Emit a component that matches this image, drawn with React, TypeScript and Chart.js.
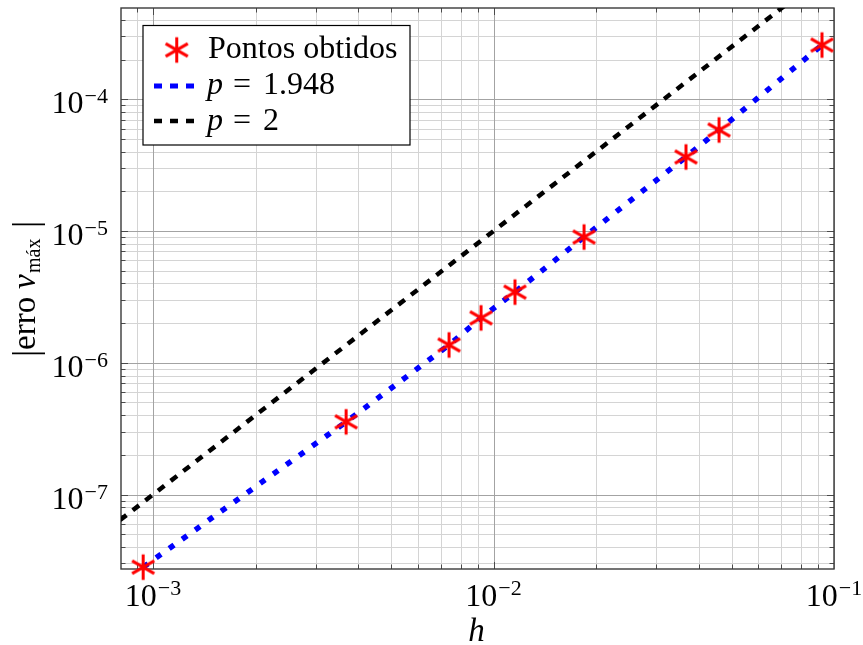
import React, { useEffect, useRef } from 'react';
import { Chart, registerables } from 'chart.js';

Chart.register(...registerables);

// ---- data ----
const hValues = [9.35e-4, 3.69e-3, 7.4e-3, 9.19e-3, 1.156e-2, 1.844e-2, 3.674e-2, 4.596e-2, 9.22e-2];
const errValues = [2.81e-8, 3.56e-7, 1.365e-6, 2.19e-6, 3.44e-6, 9.0e-6, 3.65e-5, 5.85e-5, 2.58e-4];
const refH = [8.0e-4, 0.1];
const refErr = [6.4e-8, 1.0e-3];

const xMajorTicks = [1e-3, 1e-2, 1e-1];
const xTickExponents = ['\u22123', '\u22122', '\u22121'];
const yMajorTicks = [1e-7, 1e-6, 1e-5, 1e-4];
const yTickExponents = ['\u22127', '\u22126', '\u22125', '\u22124'];
const legendLabels = ['Pontos obtidos', '1.948', '2'];

const X_MIN = 8.05e-4;
const X_MAX = 0.1;
const Y_MIN = 2.72e-8;
const Y_MAX = 4.93e-4;

const SERIF = '"Liberation Serif", "Times New Roman", serif';

function minorPositions(min: number, max: number): number[] {
  const out: number[] = [];
  const e0 = Math.floor(Math.log10(min));
  const e1 = Math.ceil(Math.log10(max));
  for (let e = e0; e <= e1; e++) {
    for (let k = 2; k <= 9; k++) {
      const v = k * Math.pow(10, e);
      if (v > min * 1.0001 && v < max * 0.9999) out.push(v);
    }
  }
  return out;
}

function makeStar(r: number, lw: number, color: string): HTMLCanvasElement {
  const size = Math.ceil(2 * r + lw + 2);
  const c = document.createElement('canvas');
  c.width = size;
  c.height = size;
  const g = c.getContext('2d')!;
  g.strokeStyle = color;
  g.lineWidth = lw;
  g.lineCap = 'butt';
  const cx = size / 2;
  const cy = size / 2;
  g.beginPath();
  for (let k = 0; k < 3; k++) {
    const ang = Math.PI / 2 + (k * Math.PI) / 3;
    const dx = r * Math.cos(ang);
    const dy = r * Math.sin(ang);
    g.moveTo(cx - dx, cy - dy);
    g.lineTo(cx + dx, cy + dy);
  }
  g.stroke();
  return c;
}

export default function App() {
  const canvasRef = useRef<HTMLCanvasElement | null>(null);

  useEffect(() => {
    const canvas = canvasRef.current;
    if (!canvas) return;
    const star = makeStar(12.8, 3, '#ff0000');
    const xMinor = minorPositions(X_MIN, X_MAX);
    const yMinor = minorPositions(Y_MIN, Y_MAX);

    const framePlugin = {
      id: 'framePlugin',
      beforeDatasetsDraw(chart: any) {
        const { ctx, chartArea: a } = chart;
        const xs = chart.scales.x;
        const ys = chart.scales.y;
        ctx.save();
        ctx.fillStyle = '#ffffff';
        ctx.fillRect(a.left, a.top, a.right - a.left, a.bottom - a.top);
        // minor grid
        ctx.lineWidth = 1;
        ctx.strokeStyle = '#d4d4d4';
        ctx.beginPath();
        for (const v of xMinor) {
          const p = Math.round(xs.getPixelForValue(v)) + 0.5;
          ctx.moveTo(p, a.top);
          ctx.lineTo(p, a.bottom);
        }
        for (const v of yMinor) {
          const p = Math.round(ys.getPixelForValue(v)) + 0.5;
          ctx.moveTo(a.left, p);
          ctx.lineTo(a.right, p);
        }
        ctx.stroke();
        // major grid
        ctx.strokeStyle = '#a3a3a3';
        ctx.beginPath();
        for (const v of xMajorTicks) {
          const p = Math.round(xs.getPixelForValue(v)) + 0.5;
          ctx.moveTo(p, a.top);
          ctx.lineTo(p, a.bottom);
        }
        for (const v of yMajorTicks) {
          const p = Math.round(ys.getPixelForValue(v)) + 0.5;
          ctx.moveTo(a.left, p);
          ctx.lineTo(a.right, p);
        }
        ctx.stroke();
        // tick marks inside on all sides
        ctx.strokeStyle = '#4a4a4a';
        ctx.beginPath();
        const tick = (vals: number[], len: number) => {
          for (const v of vals) {
            const px = Math.round(xs.getPixelForValue(v)) + 0.5;
            if (px > a.left && px < a.right) {
              ctx.moveTo(px, a.bottom);
              ctx.lineTo(px, a.bottom - len);
              ctx.moveTo(px, a.top);
              ctx.lineTo(px, a.top + len);
            }
          }
        };
        const tickY = (vals: number[], len: number) => {
          for (const v of vals) {
            const py = Math.round(ys.getPixelForValue(v)) + 0.5;
            if (py > a.top && py < a.bottom) {
              ctx.moveTo(a.left, py);
              ctx.lineTo(a.left + len, py);
              ctx.moveTo(a.right, py);
              ctx.lineTo(a.right - len, py);
            }
          }
        };
        tick(xMinor, 4.5);
        tick(xMajorTicks, 7);
        tickY(yMinor, 4.5);
        tickY(yMajorTicks, 7);
        ctx.stroke();
        // frame
        ctx.lineWidth = 1.4;
        ctx.strokeStyle = '#3a3a3a';
        ctx.strokeRect(a.left, a.top, a.right - a.left, a.bottom - a.top);
        ctx.restore();
      },
      afterDraw(chart: any) {
        const { ctx } = chart;
        const xs = chart.scales.x;
        const ys = chart.scales.y;
        ctx.save();
        ctx.fillStyle = '#000000';
        ctx.textBaseline = 'alphabetic';
        ctx.textAlign = 'left';
        const baseFont = `32px ${SERIF}`;
        const expFont = `22px ${SERIF}`;
        // x tick labels
        xMajorTicks.forEach((v, i) => {
          const px = xs.getPixelForValue(v);
          ctx.font = baseFont;
          const wb = ctx.measureText('10').width;
          ctx.font = expFont;
          const we = ctx.measureText(xTickExponents[i]).width;
          const start = px - (wb + we + 1) / 2;
          ctx.font = baseFont;
          ctx.fillText('10', start, 606);
          ctx.font = expFont;
          ctx.fillText(xTickExponents[i], start + wb + 1, 595);
        });
        // y tick labels
        yMajorTicks.forEach((v, i) => {
          const py = ys.getPixelForValue(v);
          ctx.font = baseFont;
          const wb = ctx.measureText('10').width;
          ctx.font = expFont;
          const we = ctx.measureText(yTickExponents[i]).width;
          const right = 108;
          ctx.font = baseFont;
          ctx.fillText('10', right - we - 1 - wb, py + 14);
          ctx.font = expFont;
          ctx.fillText(yTickExponents[i], right - we, py + 4);
        });
        // x title
        ctx.font = `italic 33px ${SERIF}`;
        const wh = ctx.measureText('h').width;
        ctx.fillText('h', 476.5 - wh / 2, 641);
        // y title (rotated)
        ctx.save();
        ctx.translate(35, 288);
        ctx.rotate(-Math.PI / 2);
        ctx.font = `36px ${SERIF}`;
        ctx.fillText('|', -69, 2);
        ctx.font = `33px ${SERIF}`;
        ctx.fillText('erro', -62, 0);
        ctx.font = `italic 33px ${SERIF}`;
        ctx.fillText('v', -1, 0);
        ctx.font = `20px ${SERIF}`;
        ctx.fillText('máx', 15, 5);
        ctx.font = `36px ${SERIF}`;
        ctx.fillText('|', 60, 2);
        ctx.restore();

        // legend
        ctx.fillStyle = '#ffffff';
        ctx.fillRect(143, 25, 267, 120);
        ctx.lineWidth = 1.2;
        ctx.strokeStyle = '#000000';
        ctx.strokeRect(143, 25.5, 267, 119.5);
        ctx.drawImage(star, 176.7 - star.width / 2, 50 - star.height / 2);
        ctx.lineCap = 'butt';
        ctx.setLineDash([8, 8]);
        ctx.lineWidth = 5;
        ctx.strokeStyle = '#0000ff';
        ctx.beginPath();
        ctx.moveTo(154, 86);
        ctx.lineTo(195, 86);
        ctx.stroke();
        ctx.lineWidth = 4.5;
        ctx.strokeStyle = '#000000';
        ctx.beginPath();
        ctx.moveTo(154, 121);
        ctx.lineTo(195, 121);
        ctx.stroke();
        ctx.setLineDash([]);
        ctx.fillStyle = '#000000';
        ctx.font = `32px ${SERIF}`;
        ctx.fillText(legendLabels[0], 208, 58);
        const mathRow = (val: string, base: number) => {
          ctx.font = `italic 32px ${SERIF}`;
          ctx.fillText('p', 207, base);
          ctx.font = `32px ${SERIF}`;
          ctx.fillText('=', 233, base);
          ctx.fillText(val, 263, base);
        };
        mathRow(legendLabels[1], 94);
        mathRow(legendLabels[2], 130);
        ctx.restore();
      },
    };

    const points = hValues.map((h, i) => ({ x: h, y: errValues[i] }));
    const refPoints = refH.map((h, i) => ({ x: h, y: refErr[i] }));

    const chart = new Chart(canvas, {
      type: 'line',
      data: {
        datasets: [
          {
            label: 'Pontos obtidos',
            data: points,
            showLine: false,
            pointStyle: star as any,
            pointRadius: 13,
            borderColor: '#ff0000',
            backgroundColor: '#ff0000',
            clip: false as any,
          },
          {
            label: 'p = 1.948',
            data: points,
            borderColor: '#0000ff',
            borderWidth: 5.5,
            borderDash: [6, 10],
            borderCapStyle: 'butt',
            pointRadius: 0,
            tension: 0,
            fill: false,
          },
          {
            label: 'p = 2',
            data: refPoints,
            borderColor: '#000000',
            borderWidth: 4.5,
            borderDash: [8, 8],
            borderCapStyle: 'butt',
            pointRadius: 0,
            tension: 0,
            fill: false,
          },
        ],
      },
      options: {
        responsive: false,
        animation: false,
        events: [],
        layout: { autoPadding: false, padding: { left: 0, top: 8, right: 29, bottom: 0 } },
        scales: {
          x: {
            type: 'logarithmic',
            min: X_MIN,
            max: X_MAX,
            ticks: { display: false },
            grid: { display: false },
            border: { display: false },
            afterFit: (s: any) => {
              s.height = 76;
            },
          },
          y: {
            type: 'logarithmic',
            min: Y_MIN,
            max: Y_MAX,
            ticks: { display: false },
            grid: { display: false },
            border: { display: false },
            afterFit: (s: any) => {
              s.width = 121;
            },
          },
        },
        plugins: {
          legend: { display: false },
          tooltip: { enabled: false },
        },
      },
      plugins: [framePlugin],
    });
    return () => {
      chart.destroy();
    };
  }, []);

  return (
    <div style={{ position: 'absolute', left: 0, top: 0, width: 863, height: 645, background: '#ffffff' }}>
      <canvas ref={canvasRef} width={863} height={645} style={{ display: 'block', width: 863, height: 645 }} />
    </div>
  );
}
